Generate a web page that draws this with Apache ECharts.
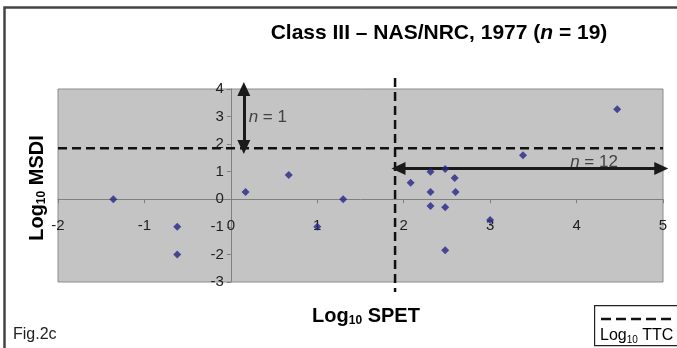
<!DOCTYPE html>
<html><head><meta charset="utf-8">
<script src="https://cdn.jsdelivr.net/npm/echarts@6/dist/echarts.min.js"></script>
<style>html,body{margin:0;padding:0;background:#fff}#c{width:677px;height:348px}</style>
</head><body><div id="c"></div>
<script>
// Data
const spetLog = [-1.36, -0.62, -0.62, 0.17, 0.67, 1.0, 1.3, 2.08, 2.31, 2.31, 2.31, 2.48, 2.48, 2.48, 2.59, 2.6, 3.0, 3.38, 4.47];
const msdiLog = [0, -1, -2, 0.26, 0.88, -1, 0, 0.6, 1.0, 0.26, -0.24, 1.1, -0.29, -1.85, 0.77, 0.26, -0.75, 1.6, 3.27];
const xRange = [-2, 5];
const yRange = [-3, 4];
const ttcX = [1.9];          // Log10 TTC on SPET axis
const ttcY = [1.85];         // Log10 TTC on MSDI axis
const ttcVExtent = [4.4, -3.36];
const arrowN1 = [[0.15, 4], [0.15, 1.9]];
const arrowN12 = [[1.94, 1.12], [4.98, 1.12]];
const noteLabels = ['n = 1', 'n = 12'];
const notePos = [[0.2, 2.98], [3.92, 1.33]];

const FONT = '"Liberation Sans", Arial, sans-serif';
const W = 677, H = 348;
const G = {left: 58, right: 14, top: 89, bottom: 66};
const gw = W - G.left - G.right, gh = H - G.top - G.bottom;
// axes cross at zero: shift them into the grid
const xAxisOffset = -gh * (0 - yRange[0]) / (yRange[1] - yRange[0]);
const yAxisOffset = -gw * (0 - xRange[0]) / (xRange[1] - xRange[0]);

const chart = echarts.init(document.getElementById('c'), null, {renderer: 'canvas'});
const pts = spetLog.map((x, i) => [x, msdiLog[i]]);
const arrowStyle = {color: '#1a1a1a', width: 3, type: 'solid'};

const option = {
  animation: false,
  textStyle: {fontFamily: FONT},
  grid: Object.assign({show: true, backgroundColor: '#c4c4c4', borderColor: '#8c8c8c', borderWidth: 1}, G),
  xAxis: {
    type: 'value', min: xRange[0], max: xRange[1], interval: 1, position: 'bottom', offset: xAxisOffset,
    axisLine: {onZero: false, lineStyle: {color: '#808080', width: 1}},
    axisTick: {show: true, inside: false, length: 4, lineStyle: {color: '#808080'}},
    axisLabel: {margin: 19, fontSize: 15, color: '#1e1e1e', fontFamily: FONT, showMinLabel: true, showMaxLabel: true},
    splitLine: {show: false}
  },
  yAxis: {
    type: 'value', min: yRange[0], max: yRange[1], interval: 1, position: 'left', offset: yAxisOffset,
    axisLine: {onZero: false, lineStyle: {color: '#808080', width: 1}},
    axisTick: {show: true, inside: false, length: 4, lineStyle: {color: '#808080'}},
    axisLabel: {margin: 7, fontSize: 15, color: '#1e1e1e', fontFamily: FONT, showMinLabel: true, showMaxLabel: true},
    splitLine: {show: false}
  },
  series: [
    {
      type: 'line', name: 'ttcH', data: [[xRange[0], ttcY[0]], [xRange[1], ttcY[0]]],
      symbol: 'none', lineStyle: {color: '#111', width: 2.5, type: [9, 5]}, z: 3, silent: true
    },
    {
      type: 'line', name: 'ttcV', data: [[ttcX[0], ttcVExtent[0]], [ttcX[0], ttcVExtent[1]]],
      symbol: 'none', clip: false, lineStyle: {color: '#111', width: 2.5, type: [9, 5]}, z: 3, silent: true
    },
    {
      type: 'scatter', name: 'arrows', data: [], silent: true,
      markLine: {
        silent: true, symbol: ['triangle', 'triangle'], symbolSize: [13, 14],
        label: {show: false}, lineStyle: arrowStyle, animation: false,
        data: [
          [{coord: arrowN1[0], lineStyle: arrowStyle}, {coord: arrowN1[1]}],
          [{coord: arrowN12[0], lineStyle: arrowStyle}, {coord: arrowN12[1]}]
        ]
      }
    },
    {
      type: 'scatter', name: 'notes', symbolSize: 1, silent: true, z: 4,
      itemStyle: {color: 'rgba(0,0,0,0)'},
      data: notePos.map((p, i) => ({value: p, name: noteLabels[i]})),
      label: {
        show: true, position: 'right', distance: 0, color: '#222', fontSize: 17, fontFamily: FONT,
        formatter: p => '{i|n}' + p.name.slice(1),
        rich: {i: {fontStyle: 'italic', fontSize: 17, fontFamily: FONT, color: '#222'}}
      }
    },
    {
      type: 'scatter', name: 'SPET', data: pts, symbol: 'diamond', symbolSize: 8,
      itemStyle: {color: '#262688'}, z: 5
    }
  ],
  graphic: [
    {type: 'rect', left: 2, top: 5, shape: {width: 700, height: 360}, style: {fill: 'none', stroke: '#444', lineWidth: 2.5}, silent: true},
    {type: 'text', x: 439, y: 33, silent: true,
      style: {text: '{b|Class III – NAS/NRC, 1977 (}{bi|n}{b| = 19)}', align: 'center', verticalAlign: 'middle',
        rich: {b: {fontSize: 21, fontWeight: 'bold', fontFamily: FONT, color: '#222'},
               bi: {fontSize: 21, fontWeight: 'bold', fontStyle: 'italic', fontFamily: FONT, color: '#222'}}}},
    {type: 'text', x: 37, y: 188, rotation: Math.PI / 2, silent: true,
      style: {text: '{m|Log}{s|10}{m| MSDI}', align: 'center', verticalAlign: 'middle',
        rich: {m: {fontSize: 20, fontWeight: 'bold', fontFamily: FONT, color: '#222', lineHeight: 22},
               s: {fontSize: 12, fontWeight: 'bold', fontFamily: FONT, color: '#222', lineHeight: 11, verticalAlign: 'bottom'}}}},
    {type: 'text', x: 366, y: 316, silent: true,
      style: {text: '{m|Log}{s|10}{m| SPET}', align: 'center', verticalAlign: 'middle',
        rich: {m: {fontSize: 20, fontWeight: 'bold', fontFamily: FONT, color: '#222', lineHeight: 22},
               s: {fontSize: 12, fontWeight: 'bold', fontFamily: FONT, color: '#222', lineHeight: 11, verticalAlign: 'bottom'}}}},
    {type: 'text', x: 13, y: 335, silent: true,
      style: {text: 'Fig.2c', fontSize: 16, fontFamily: FONT, fill: '#222', align: 'left', verticalAlign: 'middle'}},
    {type: 'rect', left: 594, top: 305, shape: {width: 90, height: 40}, style: {fill: '#fff', stroke: '#222', lineWidth: 1.2}, silent: true},
    {type: 'line', shape: {x1: 601, y1: 319, x2: 674, y2: 319}, style: {stroke: '#111', lineWidth: 2.5, lineDash: [10, 5]}, silent: true},
    {type: 'text', x: 600, y: 336, silent: true,
      style: {text: '{m|Log}{s|10}{m| TTC}', align: 'left', verticalAlign: 'middle',
        rich: {m: {fontSize: 16, fontFamily: FONT, color: '#222', lineHeight: 18},
               s: {fontSize: 10, fontFamily: FONT, color: '#222', lineHeight: 9, verticalAlign: 'bottom'}}}}
  ]
};
chart.setOption(option);
</script>
</body></html>
